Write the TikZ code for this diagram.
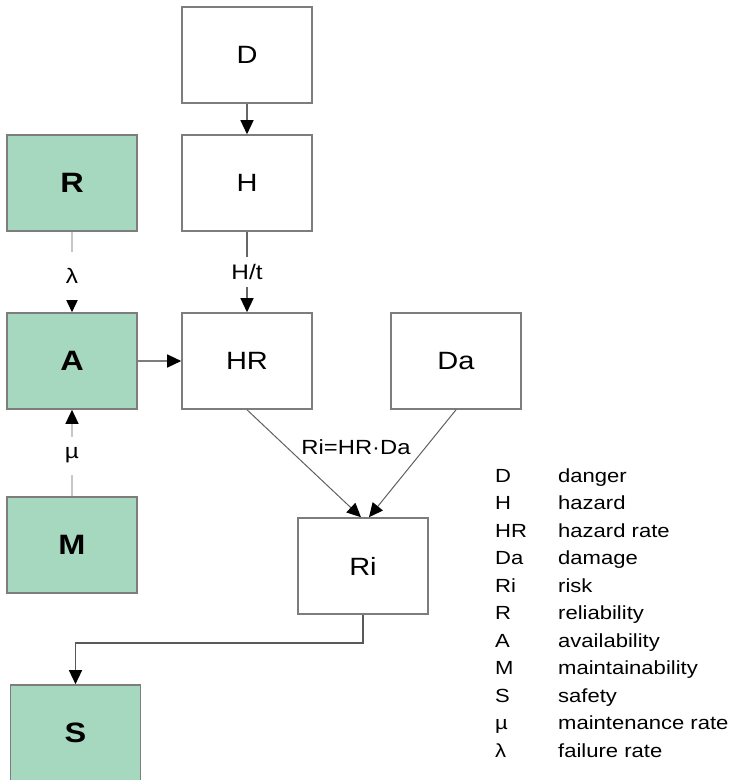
\documentclass[tikz,border=0pt]{standalone}
\usepackage{fontspec}
\setmainfont{Liberation Sans}[FakeStretch=1.16]
\usetikzlibrary{arrows.meta}
\definecolor{ramsgreen}{RGB}{166,216,192}
\definecolor{edgegray}{RGB}{125,125,125}
\begin{document}
\begin{tikzpicture}[x=1pt,y=-1pt,
  box/.style={draw=edgegray, line width=1.6pt, minimum width=130pt, minimum height=96pt,
              inner sep=0pt, font=\fontsize{25}{29}\selectfont},
  greenbox/.style={box, fill=ramsgreen, font=\fontsize{28}{32}\selectfont\bfseries},
  link/.style={draw=edgegray, line width=1.3pt,
               -{Triangle[length=14pt,width=13pt,color=black]}},
  faint/.style={link, draw=gray!45},
  dark/.style={link, draw=gray!80!black},
  lbl/.style={fill=white, inner sep=0pt, font=\fontsize{21}{24}\selectfont},
  legendtext/.style={anchor=base west, inner sep=0pt, font=\fontsize{19}{22}\selectfont}]
  \useasboundingbox (0,0) rectangle (731,780);

  % boxes
  \node[box] (D)  at (247,55)  {D};
  \node[box] (H)  at (247,183) {H};
  \node[box] (HR) at (247,361) {HR};
  \node[box] (Da) at (456,361) {Da};
  \node[box] (Ri) at (363,566) {Ri};
  \node[greenbox] (R) at (72,183) {R};
  \node[greenbox] (A) at (72,361) {A};
  \node[greenbox] (M) at (72,545) {M};
  \node[greenbox] (S) at (75.5,733) {S};

  % connectors
  \draw[dark] (D) -- (H);
  \draw[dark] (H) -- node[lbl, pos=0.5, minimum height=30pt, minimum width=34pt] {H/t} (HR);
  \draw[faint] (R) -- node[lbl, pos=0.55, minimum height=48pt, minimum width=16pt] {λ} (A);
  \draw[faint] (M) -- node[lbl, pos=0.47, minimum height=38pt, minimum width=16pt] {µ} (A);
  \draw[link] (A) -- (HR);
  \draw[link, line width=1pt, draw=gray!75!black] (HR.south) -- ([xshift=-2pt]Ri.north);
  \draw[link, line width=1pt, draw=gray!75!black] (Da.south) -- ([xshift=6pt]Ri.north);
  \coordinate (bend) at (Ri.south |- 0,643);
  \coordinate (sdrop) at (S.north |- 0,643);
  \draw[link, draw=gray!70!black] (Ri.south) -- (bend) -- (sdrop) -- (S.north);

  \node[font=\fontsize{20.5}{24}\selectfont] (formula) at (356,447) {Ri=HR·Da};

  % legend
  \foreach \y/\a/\d [count=\i] in {
      475/D/danger, 502.5/H/hazard, 530/HR/hazard rate, 557.5/Da/damage,
      585/Ri/risk, 612.5/R/reliability, 640/A/availability,
      667.5/M/maintainability, 695/S/safety, 722.5/µ/maintenance rate,
      750/λ/failure rate} {
    \node[legendtext] (ab\i) at (495,\y+7) {\a};
    \node[legendtext] (de\i) at (558,\y+7) {\d};
  }
\end{tikzpicture}
\end{document}
